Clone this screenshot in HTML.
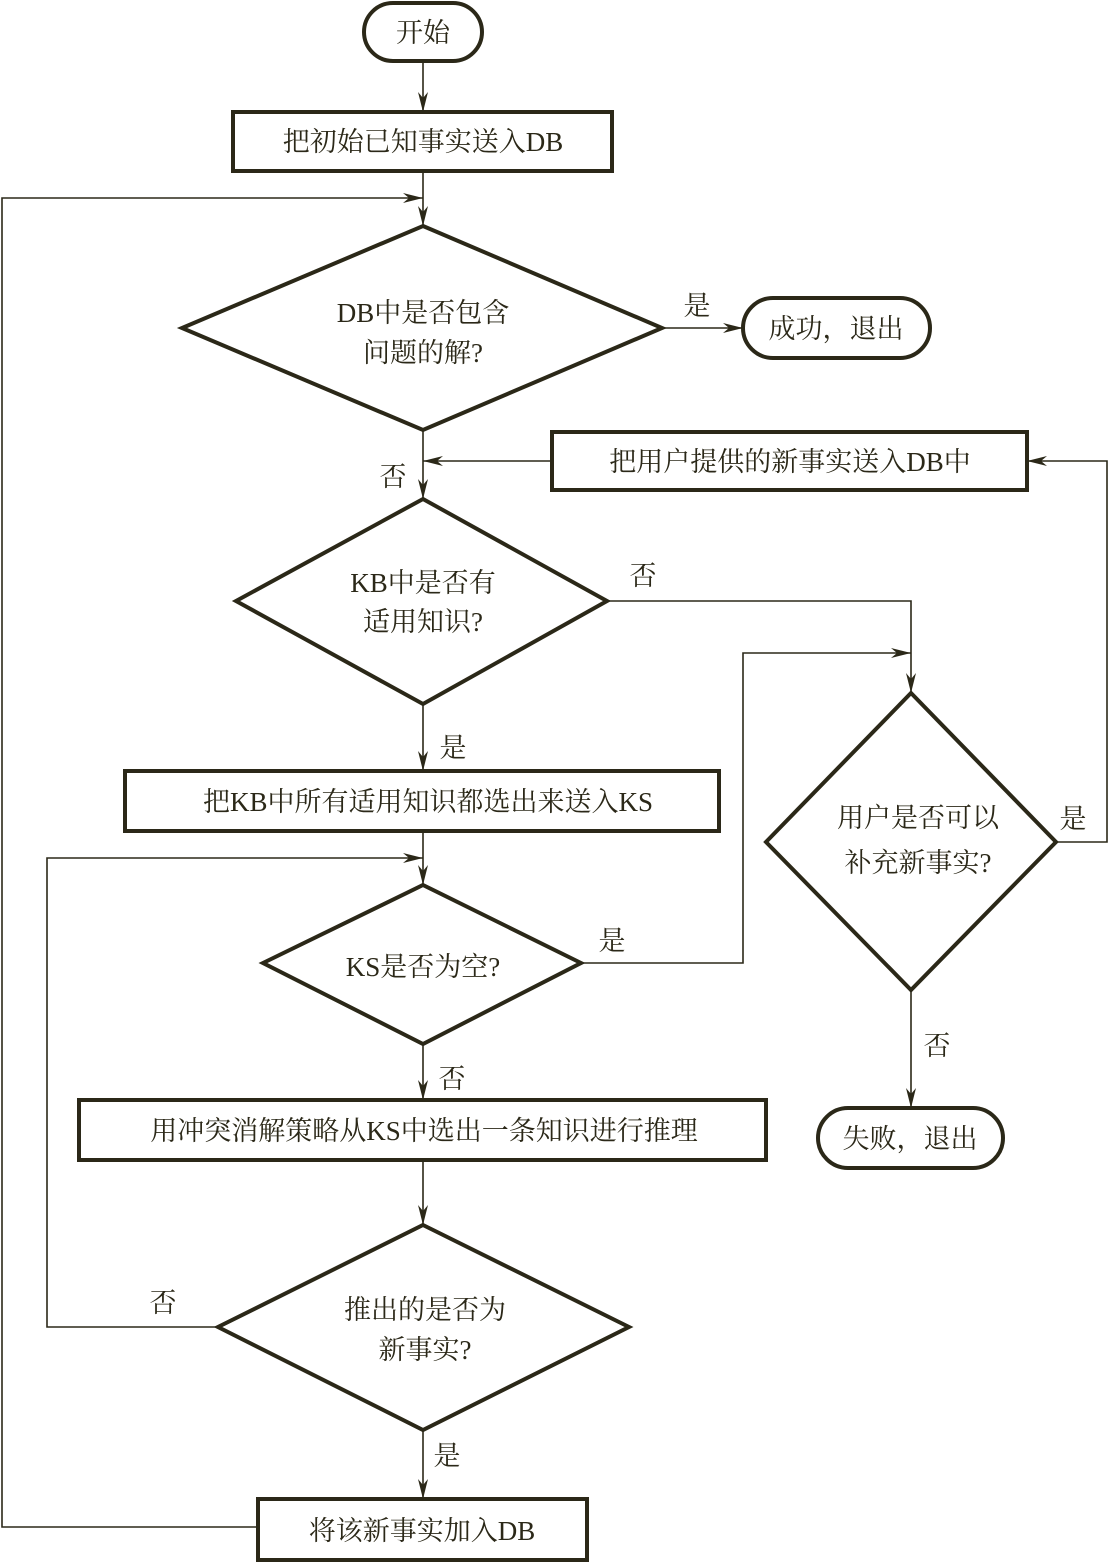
<!DOCTYPE html>
<html><head><meta charset="utf-8"><style>
html,body{margin:0;padding:0;background:#fff;}
svg{display:block;}
text{font-family:"Liberation Serif","Noto Serif CJK SC",serif;fill:#2b2818;font-size:27px;text-anchor:middle;}
.s{fill:none;stroke:#2b2818;stroke-width:4;}
.l{fill:none;stroke:#2b2818;stroke-width:1.6;}
</style></head><body>
<svg width="1109" height="1562" viewBox="0 0 1109 1562" xmlns="http://www.w3.org/2000/svg">
<defs><marker id="a" viewBox="0 0 20 10" refX="20" refY="5" markerWidth="20" markerHeight="10" markerUnits="userSpaceOnUse" orient="auto"><path d="M0,0 L20,5 L0,10 L6,5 Z" fill="#2b2818"/></marker></defs>

<!-- shapes -->
<rect class="s" x="364" y="3" width="118" height="58" rx="29"/>
<text x="423" y="42">开始</text>
<rect class="s" x="233" y="112" width="379" height="59"/>
<text x="423" y="151">把初始已知事实送入DB</text>
<polygon class="s" points="423,226 662,328 423,430 182,328"/>
<text x="423" y="322">DB中是否包含</text>
<text x="423" y="362">问题的解?</text>
<rect class="s" x="743" y="298" width="187" height="60" rx="30"/>
<text x="836" y="338">成功，退出</text>
<rect class="s" x="552" y="432" width="475" height="58"/>
<text x="790" y="471">把用户提供的新事实送入DB中</text>
<polygon class="s" points="423,499 607,601 423,704 236,601"/>
<text x="423" y="592">KB中是否有</text>
<text x="423" y="631">适用知识?</text>
<polygon class="s" points="911,693 1056,842 911,990 766,842"/>
<text x="918" y="827">用户是否可以</text>
<text x="918" y="872">补充新事实?</text>
<rect class="s" x="818" y="1108" width="185" height="60" rx="30"/>
<text x="910" y="1148">失败，退出</text>
<rect class="s" x="125" y="771" width="594" height="60"/>
<text x="428" y="811">把KB中所有适用知识都选出来送入KS</text>
<polygon class="s" points="423,885 581,963 423,1044 263,963"/>
<text x="423" y="976">KS是否为空?</text>
<rect class="s" x="79" y="1100" width="687" height="60"/>
<text x="424" y="1140">用冲突消解策略从KS中选出一条知识进行推理</text>
<polygon class="s" points="423,1225 629,1327 423,1430 218,1327"/>
<text x="425" y="1319">推出的是否为</text>
<text x="425" y="1359">新事实?</text>
<rect class="s" x="258" y="1499" width="329" height="61"/>
<text x="422" y="1540">将该新事实加入DB</text>

<!-- connectors -->
<line class="l" x1="423" y1="61" x2="423" y2="112" marker-end="url(#a)"/>
<line class="l" x1="423" y1="171" x2="423" y2="226" marker-end="url(#a)"/>
<polyline class="l" points="258,1527 2,1527 2,198 423,198" marker-end="url(#a)"/>
<line class="l" x1="662" y1="328" x2="743" y2="328" marker-end="url(#a)"/>
<line class="l" x1="423" y1="430" x2="423" y2="499" marker-end="url(#a)"/>
<line class="l" x1="552" y1="461" x2="423" y2="461" marker-end="url(#a)"/>
<polyline class="l" points="607,601 911,601 911,693" marker-end="url(#a)"/>
<polyline class="l" points="581,963 743,963 743,653 911,653" marker-end="url(#a)"/>
<polyline class="l" points="1056,842 1107,842 1107,461 1027,461" marker-end="url(#a)"/>
<line class="l" x1="911" y1="990" x2="911" y2="1108" marker-end="url(#a)"/>
<line class="l" x1="423" y1="704" x2="423" y2="771" marker-end="url(#a)"/>
<line class="l" x1="423" y1="831" x2="423" y2="885" marker-end="url(#a)"/>
<polyline class="l" points="218,1327 47,1327 47,858 423,858" marker-end="url(#a)"/>
<line class="l" x1="423" y1="1044" x2="423" y2="1100" marker-end="url(#a)"/>
<line class="l" x1="423" y1="1160" x2="423" y2="1225" marker-end="url(#a)"/>
<line class="l" x1="423" y1="1430" x2="423" y2="1499" marker-end="url(#a)"/>

<!-- labels -->
<text x="697" y="315">是</text>
<text x="393" y="486">否</text>
<text x="643" y="585">否</text>
<text x="1073" y="828">是</text>
<text x="937" y="1055">否</text>
<text x="453" y="757">是</text>
<text x="612" y="950">是</text>
<text x="452" y="1088">否</text>
<text x="163" y="1312">否</text>
<text x="447" y="1465">是</text>
</svg>
</body></html>
